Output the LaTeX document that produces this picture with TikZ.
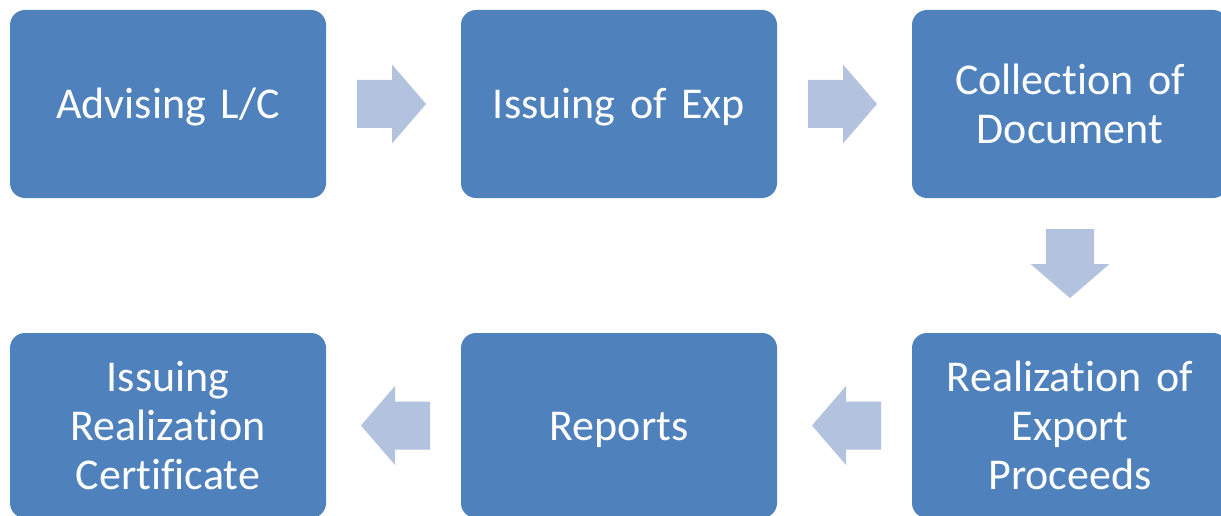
\documentclass[tikz,border=0pt]{standalone}
\usepackage{fontspec}
\setmainfont{Carlito}[Ligatures=NoCommon]
\usetikzlibrary{calc}
\definecolor{boxblue}{RGB}{79,129,189}
\definecolor{arrblue}{RGB}{179,194,222}
\newcommand{\boxfont}{\fontsize{44pt}{49pt}\selectfont\fontdimen2\font=7pt\fontdimen3\font=0pt\fontdimen4\font=0pt}
\tikzset{
  stepbox/.style={fill=boxblue, draw=none, rounded corners=15pt, minimum width=316pt,
    text width=300pt, align=center, text=white, inner sep=0pt,
    font=\boxfont},
  toprow/.style={stepbox, minimum height=188pt},
  botrow/.style={stepbox, minimum height=185pt},
  oneline/.style={text height=39pt, text depth=9pt},
  blockarrow/.style={fill=arrblue, draw=none}
}
\begin{document}
\begin{tikzpicture}[x=1pt,y=-1pt]
\useasboundingbox (0,0) rectangle (1221,516);
\clip (0,0) rectangle (1221,516);
\node[toprow, oneline] (b1) at (168,104) {Advising L/C};
\node[toprow, oneline] (b2) at (619,104) {Issuing of Exp};
\node[toprow] (b3) at (1070,104) {Collection of\\Document};
\node[botrow] (b4) at (1070,425.5) {Realization of\\Export\\Proceeds};
\node[botrow, oneline] (b5) at (619,425.5) {Reports};
\node[botrow] (b6) at (168,425.5) {Issuing\\Realization\\Certificate};
\coordinate (m1) at ($(b1.east)!0.5!(b2.west)$);
\coordinate (m2) at ($(b2.east)!0.5!(b3.west)$);
\coordinate (m3) at ($(b3.south)!0.5!(b4.north)$);
\coordinate (m4) at ($(b4.west)!0.5!(b5.east)$);
\coordinate (m5) at ($(b5.west)!0.5!(b6.east)$);
\foreach \m/\r in {m1/0, m2/0, m3/-90, m4/180, m5/180}{
  \fill[blockarrow, shift={(\m)}, rotate=\r]
    (-36.5,-24) -- (-1.5,-24) -- (-1.5,-39.5) -- (32.5,0) -- (-1.5,39.5) -- (-1.5,24) -- (-36.5,24) -- cycle;
}
\end{tikzpicture}
\end{document}
